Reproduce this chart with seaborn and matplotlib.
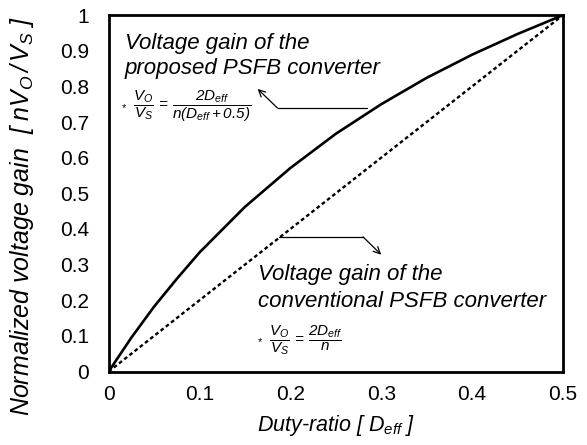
import numpy as np
import pandas as pd
import matplotlib
matplotlib.use('Agg')
import matplotlib.pyplot as plt
from matplotlib.ticker import MultipleLocator
import seaborn as sns

# Duty-ratio values
duty = [0.0, 0.025, 0.05, 0.075, 0.1, 0.15, 0.2, 0.25, 0.3, 0.35, 0.4, 0.45, 0.5]
# proposed PSFB converter (solid line)
gain_proposed = [0.0, 0.095, 0.182, 0.26, 0.334, 0.462, 0.571, 0.667, 0.75, 0.824, 0.889, 0.947, 1.0]
# conventional PSFB converter (dotted line)
duty_conv = [0.0, 0.1, 0.2, 0.3, 0.4, 0.5]
gain_conv = [0.0, 0.2, 0.4, 0.6, 0.8, 1.0]

x_ticks = [0, 0.1, 0.2, 0.3, 0.4, 0.5]
x_tick_labels = ['0', '0.1', '0.2', '0.3', '0.4', '0.5']
y_ticks = [0, 0.1, 0.2, 0.3, 0.4, 0.5, 0.6, 0.7, 0.8, 0.9, 1.0]
y_tick_labels = ['0', '0.1', '0.2', '0.3', '0.4', '0.5', '0.6', '0.7', '0.8', '0.9', '1']

df_prop = pd.DataFrame({'D': duty, 'gain': gain_proposed})
df_conv = pd.DataFrame({'D': duty_conv, 'gain': gain_conv})

sns.set_style('white')
plt.rcParams['font.family'] = ['Liberation Sans', 'DejaVu Sans']
plt.rcParams['mathtext.fontset'] = 'custom'
plt.rcParams['mathtext.rm'] = 'Liberation Sans:italic'
plt.rcParams['mathtext.it'] = 'Liberation Sans:italic'
plt.rcParams['mathtext.sf'] = 'Liberation Sans:italic'
plt.rcParams['text.color'] = 'black'
plt.rcParams['axes.labelcolor'] = 'black'
plt.rcParams['xtick.labelcolor'] = 'black'
plt.rcParams['ytick.labelcolor'] = 'black'

fig = plt.figure(figsize=(5.87, 4.45), dpi=100)
ax = fig.add_axes([0.185, 0.165, 0.774, 0.801])

sns.lineplot(data=df_prop, x='D', y='gain', ax=ax, color='black', lw=1.9)
sns.lineplot(data=df_conv, x='D', y='gain', ax=ax, color='black', lw=1.7,
             linestyle=(0, (1.6, 1.2)))

ax.set_xlim(0, 0.5)
ax.set_ylim(0, 1)
ax.set_xticks(x_ticks)
ax.set_xticklabels(x_tick_labels)
ax.set_yticks(y_ticks)
ax.set_yticklabels(y_tick_labels)
ax.xaxis.set_minor_locator(MultipleLocator(0.05))
ax.tick_params(axis='x', which='both', direction='in', length=5, width=0.8,
               color='#808080', labelcolor='black', labelsize=15, pad=10)
ax.tick_params(axis='y', which='both', length=0, labelcolor='black',
               labelsize=15, pad=14)

for sp in ax.spines.values():
    sp.set_linewidth(2)
    sp.set_color('black')

ax.set_xlabel(r'Duty-ratio [ $D_{eff}$ ]', fontsize=15.5, style='italic',
              labelpad=6, color='black')
ax.set_ylabel(r'Normalized voltage gain  [ $nV_O\,/\,V_S$ ]', fontsize=18,
              style='italic', color='black')
ax.yaxis.set_label_coords(-0.16, 0.437)

# annotations
ax.text(0.018, 0.905, 'Voltage gain of the', fontsize=16, style='italic', va='baseline')
ax.text(0.018, 0.835, 'proposed PSFB converter', fontsize=16, style='italic', va='baseline')
ax.text(0.014, 0.74, '*', fontsize=8, va='center')
ax.text(0.027, 0.745, r'$\dfrac{V_O}{V_S}\, = \,\dfrac{2D_{eff}}{n(D_{eff}+0.5)}$',
        fontsize=11, va='center')

ax.text(0.164, 0.258, 'Voltage gain of the', fontsize=16, style='italic', va='baseline')
ax.text(0.164, 0.182, 'conventional PSFB converter', fontsize=16, style='italic', va='baseline')
ax.text(0.164, 0.082, '*', fontsize=8, va='center')
ax.text(0.176, 0.087, r'$\dfrac{V_O}{V_S}\, = \,\dfrac{2D_{eff}}{n}$',
        fontsize=11, va='center')

# arrows with a bend
ax.plot([0.284, 0.186], [0.739, 0.739], color='black', lw=0.9)
ax.annotate('', xy=(0.164, 0.793), xytext=(0.186, 0.739),
            arrowprops=dict(arrowstyle='->', color='black', lw=0.9,
                            shrinkA=0, shrinkB=0, mutation_scale=12))
ax.plot([0.188, 0.28], [0.378, 0.378], color='black', lw=0.9)
ax.annotate('', xy=(0.30, 0.328), xytext=(0.28, 0.378),
            arrowprops=dict(arrowstyle='->', color='black', lw=0.9,
                            shrinkA=0, shrinkB=0, mutation_scale=12))

fig.savefig('out.png', dpi=100)
